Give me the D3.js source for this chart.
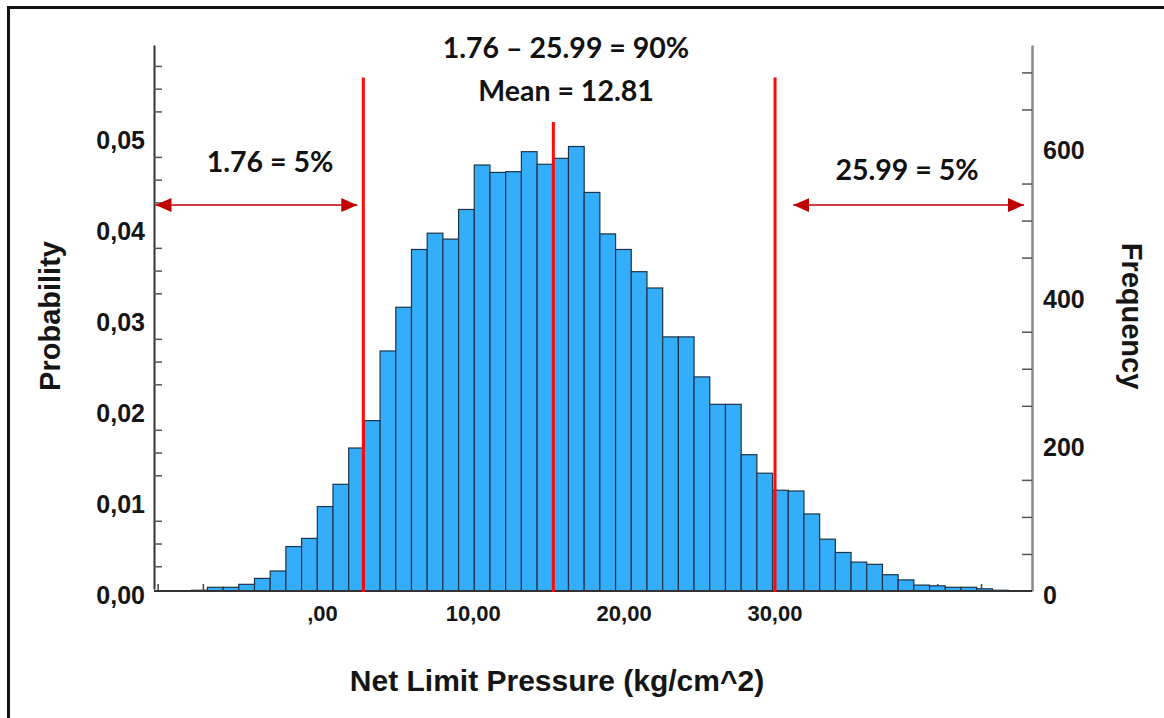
<!DOCTYPE html>
<html>
<head>
<meta charset="utf-8">
<script src="https://cdn.jsdelivr.net/npm/d3@7"></script>
<style>
  body { margin: 0; background: #fff; }
  .tick text { font-family: "Liberation Sans", Arial, sans-serif; font-weight: bold; fill: #151515; }
</style>
</head>
<body>
<svg id="chart"></svg>
<script>
/* Histogram of net limit pressure */

// bin counts (frequency)
var counts = [1, 5, 5, 9, 17, 27, 60, 71, 114, 144,
  193, 230, 324, 383, 461, 483, 475, 515, 575, 565,
  566, 593, 576, 584, 600, 538, 482, 461, 431, 409,
  343, 343, 289, 252, 252, 184, 159, 136, 135, 104,
  70, 52, 39, 36, 22, 15, 8, 7, 5, 5,
  3, 1];
var binStart = -8.64;
var binWidth = 1.041;

var probTicks = [0, 0.01, 0.02, 0.03, 0.04, 0.05];
var freqTicks = [0, 200, 400, 600];
var xTicks = [0, 10, 20, 30];
var xMinorTicks = [-10.9, -7.9, 40.8, 43.7];

// red marker lines as drawn on the picture (x in axis units, top in frequency units)
var markerX = [2.74, 15.34, 30.04];
var markerTop = [693, 633, 693];
// the two double arrows
var arrowFrom = [-11.04, 31.25];
var arrowTo = [2.34, 46.55];
var arrowLevel = 521;

var notes = ["1.76 \u2013 25.99 = 90%", "Mean = 12.81", "1.76 = 5%", "25.99 = 5%"];

function drawChart() {
  var width = 1164, height = 718;
  var left = 154, right = 1032, top = 45, bottom = 591;

  var svg = d3.select("#chart")
    .attr("width", width)
    .attr("height", height);

  // frame
  svg.append("rect")
    .attr("x", 8.5).attr("y", 7.5)
    .attr("width", 1200).attr("height", 800)
    .attr("fill", "none")
    .attr("stroke", "#111")
    .attr("stroke-width", 3);

  var x = d3.scaleLinear().domain([-11.14, 47.08]).range([left, right]);
  var yFreq = d3.scaleLinear().domain([0, 737]).range([bottom, top]);
  var yProb = d3.scaleLinear().domain([0, 0.0598]).range([bottom - 2, top]);

  // minor ticks
  var probMinor = d3.range(1, 24).filter(function (k) { return k % 4 != 0; })
    .map(function (k) { return k * 0.0025; });
  var freqMinor = d3.range(1, 15).filter(function (k) { return k % 4 != 0; })
    .map(function (k) { return k * 50; });

  svg.append("g")
    .attr("transform", "translate(" + left + ",0)")
    .call(d3.axisLeft(yProb).tickValues(probMinor).tickSize(-8).tickSizeOuter(0).tickFormat(""))
    .call(function (g) {
      g.select(".domain").attr("stroke", "#333").attr("stroke-width", 2);
      g.selectAll(".tick line").attr("stroke", "#555").attr("stroke-width", 1.5);
    });

  svg.append("g")
    .attr("transform", "translate(" + right + ",0)")
    .call(d3.axisRight(yFreq).tickValues(freqMinor).tickSize(-10).tickSizeOuter(0).tickFormat(""))
    .call(function (g) {
      g.select(".domain").attr("stroke", "#8a8a8a").attr("stroke-width", 2.5);
      g.selectAll(".tick line").attr("stroke", "#555").attr("stroke-width", 1.5);
    });

  svg.append("g")
    .attr("transform", "translate(0," + bottom + ")")
    .call(d3.axisTop(x).tickValues(xMinorTicks).tickSize(7).tickSizeOuter(0).tickFormat(""))
    .call(function (g) {
      g.select(".domain").remove();
      g.selectAll(".tick line").attr("stroke", "#444").attr("stroke-width", 1.5);
    });

  // bars
  svg.append("g")
    .selectAll("rect")
    .data(counts)
    .enter()
    .append("rect")
    .attr("x", function (d, i) { return x(binStart + i * binWidth); })
    .attr("width", function (d, i) { return x(binStart + (i + 1) * binWidth) - x(binStart + i * binWidth); })
    .attr("y", function (d) { return yFreq(d); })
    .attr("height", function (d) { return yFreq(0) - yFreq(d); })
    .attr("fill", "#34aefb")
    .attr("stroke", "#1d3448")
    .attr("stroke-width", 1.2);

  // baseline
  svg.append("line")
    .attr("x1", left).attr("x2", right)
    .attr("y1", bottom).attr("y2", bottom)
    .attr("stroke", "#333").attr("stroke-width", 2);

  // tick labels
  var commaFmt = function (v) { return d3.format(".2f")(v).replace(".", ","); };

  svg.append("g")
    .attr("transform", "translate(" + left + ",0)")
    .call(d3.axisLeft(yProb).tickValues(probTicks).tickSize(0).tickPadding(9).tickFormat(commaFmt))
    .call(function (g) {
      g.select(".domain").remove();
      g.selectAll(".tick text").attr("font-size", 25).attr("dy", "0.58em");
    });

  svg.append("g")
    .attr("transform", "translate(" + right + ",0)")
    .call(d3.axisRight(yFreq).tickValues(freqTicks).tickSize(0).tickPadding(11).tickFormat(d3.format("d")))
    .call(function (g) {
      g.select(".domain").remove();
      g.selectAll(".tick text").attr("font-size", 25).attr("dy", "0.5em");
    });

  svg.append("g")
    .attr("transform", "translate(0," + bottom + ")")
    .call(d3.axisBottom(x).tickValues(xTicks).tickSize(0).tickPadding(14)
      .tickFormat(function (v) { return v == 0 ? ",00" : commaFmt(v); }))
    .call(function (g) {
      g.select(".domain").remove();
      g.selectAll(".tick text").attr("font-size", 22);
    });

  // axis titles
  var titleFont = "Liberation Sans, Arial, sans-serif";
  svg.append("text")
    .attr("transform", "translate(60,316) rotate(-90)")
    .attr("text-anchor", "middle")
    .style("font-family", titleFont).style("font-weight", "bold").style("font-size", "29px")
    .attr("fill", "#151515")
    .text("Probability");

  svg.append("text")
    .attr("transform", "translate(1122,316) rotate(90)")
    .attr("text-anchor", "middle")
    .style("font-family", titleFont).style("font-weight", "bold").style("font-size", "29px")
    .attr("fill", "#151515")
    .text("Frequency");

  svg.append("text")
    .attr("x", 557).attr("y", 691)
    .attr("text-anchor", "middle")
    .style("font-family", titleFont).style("font-weight", "bold").style("font-size", "30px")
    .attr("fill", "#151515")
    .text("Net Limit Pressure (kg/cm^2)");

  // red marker lines
  svg.append("g")
    .selectAll("line")
    .data(markerX)
    .enter()
    .append("line")
    .attr("x1", function (d) { return x(d); })
    .attr("x2", function (d) { return x(d); })
    .attr("y1", function (d, i) { return yFreq(markerTop[i]); })
    .attr("y2", yFreq(0) + 1)
    .attr("stroke", "#ff0a0a")
    .attr("stroke-width", 3);

  // double arrows
  var defs = svg.append("defs");
  defs.append("marker")
    .attr("id", "head")
    .attr("viewBox", "0 0 16 14")
    .attr("refX", 16).attr("refY", 7)
    .attr("markerWidth", 16).attr("markerHeight", 14)
    .attr("markerUnits", "userSpaceOnUse")
    .attr("orient", "auto-start-reverse")
    .append("path")
    .attr("d", "M0,0L16,7L0,14Z")
    .attr("fill", "#c00000");

  svg.append("g")
    .selectAll("line")
    .data(arrowFrom)
    .enter()
    .append("line")
    .attr("x1", function (d) { return x(d); })
    .attr("x2", function (d, i) { return x(arrowTo[i]); })
    .attr("y1", yFreq(arrowLevel))
    .attr("y2", yFreq(arrowLevel))
    .attr("stroke", "#c00000")
    .attr("stroke-width", 1.5)
    .attr("marker-start", "url(#head)")
    .attr("marker-end", "url(#head)");

  // annotation text
  var notePos = [[566, 47.5], [566, 91], [270, 162], [907, 170]];
  svg.append("g")
    .selectAll("text")
    .data(notes)
    .enter()
    .append("text")
    .attr("x", function (d, i) { return notePos[i][0]; })
    .attr("y", function (d, i) { return notePos[i][1]; })
    .attr("dy", "0.36em")
    .attr("text-anchor", "middle")
    .style("font-family", "Lato, 'Open Sans', sans-serif")
    .style("font-weight", "bold")
    .style("font-size", "28.5px")
    .attr("fill", "#111")
    .text(function (d) { return d; });
}

drawChart();
</script>
</body>
</html>
